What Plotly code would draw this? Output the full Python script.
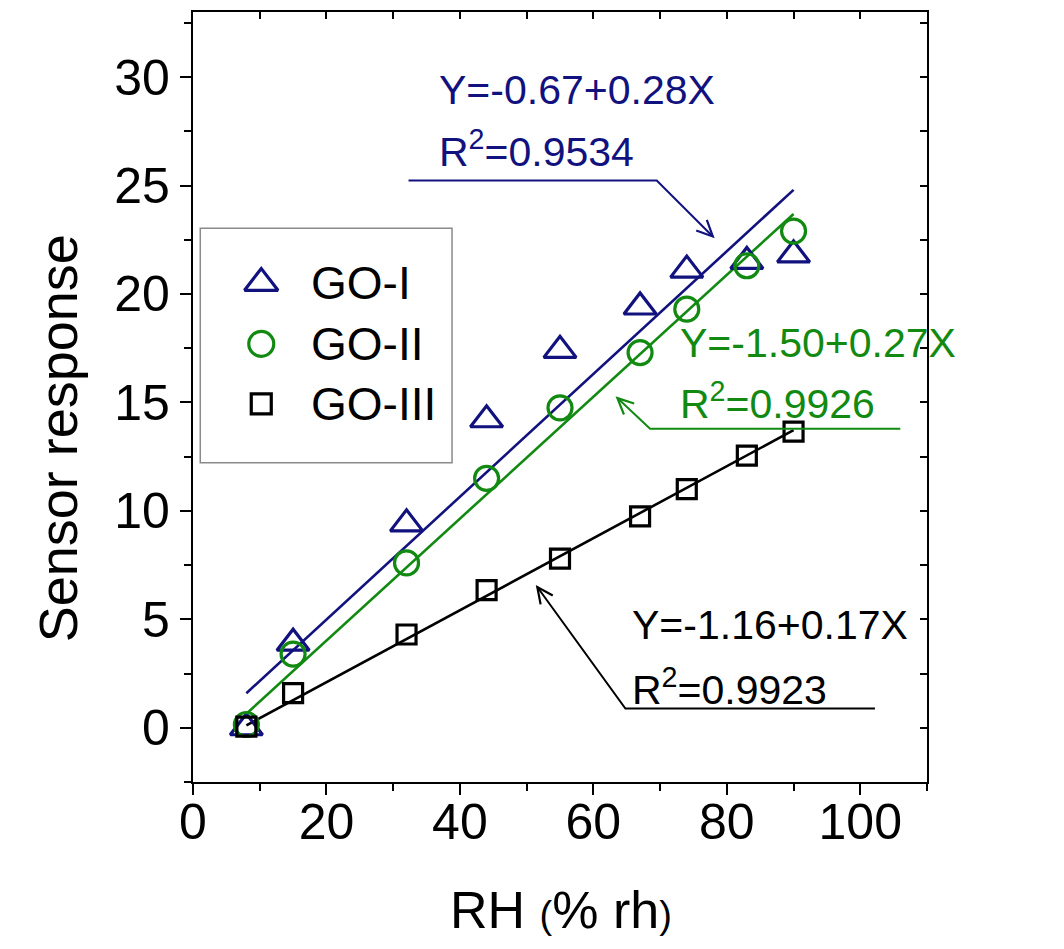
import math
import plotly.graph_objects as go

# ---------------- data ----------------
rh = [8, 15, 32, 44, 55, 67, 74, 83, 90]
go_1 = [0.0, 3.9, 9.4, 14.2, 17.4, 19.4, 21.1, 21.5, 21.8]
go_2 = [0.15, 3.4, 7.6, 11.5, 14.75, 17.3, 19.3, 21.3, 22.9]
go_3 = [0.05, 1.6, 4.3, 6.35, 7.8, 9.75, 11.0, 12.55, 13.65]
series_names = ["GO-I", "GO-II", "GO-III"]
fit_intercept = [-0.67, -1.60, -1.22]
fit_slope = [0.283, 0.281, 0.166]
eq_labels = ["Y=-0.67+0.28X", "Y=-1.50+0.27X", "Y=-1.16+0.17X"]
r2_values = ["0.9534", "0.9926", "0.9923"]
x_tick_vals = [0, 20, 40, 60, 80, 100]
y_tick_vals = [0, 5, 10, 15, 20, 25, 30]

# ---------------- styles / layout ----------------
FONT = "Liberation Sans, Arial, sans-serif"
colors = ["#12127f", "#128a12", "#000000"]
symbols = ["triangle-up-open", "circle-open", "square-open"]
sizes = [28, 24, 19]
XR = [0, 110]
YR = [-2.5, 33]
W, H = 1064, 949
ML, MR, MT, MB = 193, 137, 10, 167
PW, PH = W - ML - MR, H - MT - MB
SX = PW / (XR[1] - XR[0])
SY = PH / (YR[1] - YR[0])

ys = [go_1, go_2, go_3]
fig = go.Figure()

# fitted lines
for i in range(3):
    xf = [min(rh), max(rh)]
    yf = [fit_intercept[i] + fit_slope[i] * v for v in xf]
    fig.add_trace(go.Scatter(x=xf, y=yf, mode="lines",
                             line=dict(color=colors[i], width=2.6),
                             showlegend=False, hoverinfo="skip"))

# data markers
for i in range(3):
    fig.add_trace(go.Scatter(x=rh, y=ys[i], mode="markers", name=series_names[i],
                             marker=dict(symbol=symbols[i], size=sizes[i],
                                         color=colors[i],
                                         line=dict(color=colors[i], width=3.2)),
                             showlegend=False, cliponaxis=False))

# dummy trace for mirrored tick axes
fig.add_trace(go.Scatter(x=[None], y=[None], xaxis="x2", yaxis="y2",
                         showlegend=False, hoverinfo="skip"))

# custom legend (overlay axes in plot-fraction units)
leg_x = 0.093
leg_text_x = 0.158
leg_rows = [0.648, 0.569, 0.491]
for i in range(3):
    fig.add_trace(go.Scatter(x=[leg_x], y=[leg_rows[i]], xaxis="x3", yaxis="y3",
                             mode="markers",
                             marker=dict(symbol=symbols[i], size=sizes[i] + 1,
                                         color=colors[i],
                                         line=dict(color=colors[i], width=3.2)),
                             showlegend=False, hoverinfo="skip"))

annotations = []
for i in range(3):
    annotations.append(dict(x=leg_text_x, y=leg_rows[i], xref="paper", yref="paper",
                            text=series_names[i], showarrow=False, xanchor="left",
                            yanchor="middle", font=dict(family=FONT, size=46, color="black")))

# equation labels
eq_pos = [(36.5, 29.4, 26.7), (72.7, 17.75, 15.05), (65.5, 4.75, 1.9)]
for i in range(3):
    x0, y_eq, y_r2 = eq_pos[i]
    annotations.append(dict(x=x0, y=y_eq, xref="x", yref="y", text=eq_labels[i],
                            showarrow=False, xanchor="left", yanchor="middle",
                            font=dict(family=FONT, size=41, color=colors[i])))
    annotations.append(dict(x=x0, y=y_r2, xref="x", yref="y",
                            text="R<sup>2</sup>=" + r2_values[i],
                            showarrow=False, xanchor="left", yanchor="middle",
                            font=dict(family=FONT, size=41, color=colors[i])))

# leader lines + arrowheads
leaders = [  # (x_start, x_knee, y_level, x_head, y_head)
    (32.3, 69.5, 25.23, 77.9, 22.65),
    (106.0, 68.5, 13.79, 63.6, 15.2),
    (102.2, 64.8, 0.89, 51.6, 6.49),
]
shapes = []
AL, AW = 16, 7.5
for i, (xs, xk, yl, xh, yh) in enumerate(leaders):
    shapes.append(dict(type="path", xref="x", yref="y",
                       path=f"M{xs},{yl} L{xk},{yl} L{xh},{yh}",
                       line=dict(color=colors[i], width=2), layer="above"))
    dx = (xh - xk) * SX
    dy = (yh - yl) * SY
    n = math.hypot(dx, dy)
    ux, uy = dx / n, dy / n
    px, py = -uy, ux
    w1 = (-AL * ux + AW * px, -AL * uy + AW * py)
    w2 = (-AL * ux - AW * px, -AL * uy - AW * py)
    shapes.append(dict(type="path", xref="x", yref="y",
                       xsizemode="pixel", ysizemode="pixel",
                       xanchor=xh, yanchor=yh,
                       path=f"M{w1[0]:.2f},{w1[1]:.2f} L0,0 L{w2[0]:.2f},{w2[1]:.2f}",
                       line=dict(color=colors[i], width=2.2), layer="above"))

# legend box
shapes.append(dict(type="rect", xref="paper", yref="paper", x0=0.0099, x1=0.3529,
                   y0=0.4147, y1=0.7192, line=dict(color="#8a8a8a", width=1.5),
                   layer="below"))

# axis titles
annotations.append(dict(x=-0.1835, y=0.4467, xref="paper", yref="paper",
                        text="Sensor response", textangle=-90, showarrow=False,
                        xanchor="center", yanchor="middle",
                        font=dict(family=FONT, size=54, color="black")))
annotations.append(dict(x=0.502, y=-0.166, xref="paper", yref="paper",
                        text="RH <span style='font-size:38px'>(</span>% rh<span style='font-size:38px'>)</span>",
                        showarrow=False, xanchor="center", yanchor="middle",
                        font=dict(family=FONT, size=52, color="black")))

main_common = dict(showline=True, linecolor="black", linewidth=2.4, mirror=True,
                   showgrid=False, zeroline=False, fixedrange=True)
sec_common = dict(showline=False, showgrid=False, zeroline=False, fixedrange=True)

fig.update_layout(
    width=W, height=H,
    margin=dict(l=ML, r=MR, t=MT, b=MB),
    paper_bgcolor="white", plot_bgcolor="white",
    showlegend=False,
    font=dict(family=FONT, color="black"),
    xaxis=dict(range=XR, tickmode="array", tickvals=x_tick_vals,
               ticks="outside", ticklen=11, tickwidth=2.2, tickcolor="black",
               minor=dict(ticks="outside", ticklen=7, tickwidth=2.2, dtick=10,
                          tick0=0, tickcolor="black"),
               tickfont=dict(family=FONT, size=50, color="black"),
               ticklabelstandoff=-16, **main_common),
    yaxis=dict(range=YR, tickmode="array", tickvals=y_tick_vals,
               ticks="outside", ticklen=11, tickwidth=2.2, tickcolor="black",
               minor=dict(ticks="outside", ticklen=7, tickwidth=2.2, dtick=2.5,
                          tick0=0, tickcolor="black"),
               tickfont=dict(family=FONT, size=50, color="black"),
               ticklabelstandoff=0, **main_common),
    xaxis2=dict(range=XR, overlaying="x", side="top", anchor="y2",
                tickmode="linear", tick0=0, dtick=10, ticks="inside", ticklen=7,
                tickwidth=2.2, tickcolor="black", showticklabels=False, **sec_common),
    yaxis2=dict(range=YR, overlaying="y", side="right", anchor="x2",
                tickmode="linear", tick0=0, dtick=2.5, ticks="inside", ticklen=7,
                tickwidth=2.2, tickcolor="black", showticklabels=False, **sec_common),
    xaxis3=dict(range=[0, 1], domain=[0, 1], anchor="y3", overlaying="x",
                visible=False, fixedrange=True),
    yaxis3=dict(range=[0, 1], domain=[0, 1], anchor="x3", overlaying="y",
                visible=False, fixedrange=True),
    annotations=annotations,
    shapes=shapes,
)

fig.write_html("out.html")
